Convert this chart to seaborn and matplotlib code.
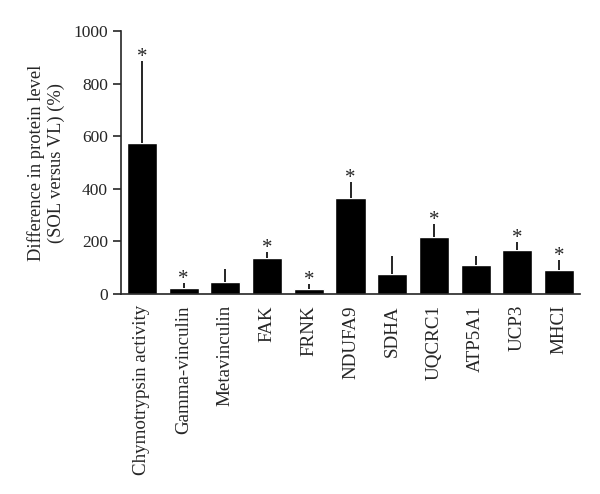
import numpy as np
import pandas as pd
import matplotlib
matplotlib.use("Agg")
import matplotlib.pyplot as plt
import seaborn as sns

labels = ["Chymotrypsin activity", "Gamma-vinculin", "Metavinculin", "FAK", "FRNK",
          "NDUFA9", "SDHA", "UQCRC1", "ATP5A1", "UCP3", "MHCI"]
values = [573, 22, 47, 138, 19, 366, 75, 218, 110, 166, 91]
errors = [313, 18, 47, 20, 18, 59, 68, 47, 36, 32, 37]
significant = [True, True, False, True, True, True, False, True, False, True, True]

df = pd.DataFrame({"protein": labels, "value": values})

sns.set_style("ticks")
plt.rcParams['font.family'] = ['Liberation Serif', 'DejaVu Serif']

fig = plt.figure(figsize=(6, 4.94), dpi=100)
ax = fig.add_axes([0.2017, 0.405, 0.765, 0.532])

sns.barplot(data=df, x="protein", y="value", color="black", width=0.72,
            saturation=1, ax=ax, errorbar=None)

x = np.arange(len(labels))
ax.errorbar(x, values, yerr=[np.zeros(len(errors)), errors], fmt="none",
            ecolor="black", elinewidth=1.2, capsize=0)

# stars sit just above the error bar tip
for xi, v, e, s in zip(x, values, errors, significant):
    if s:
        ax.text(xi, v + e - 22, "*", ha="center", va="bottom", fontsize=15)

ax.set_ylim(0, 1000)
ax.set_xlim(-0.5, len(labels) - 0.5)
ax.set_yticks([0, 200, 400, 600, 800, 1000])
ax.set_xlabel("")
ax.set_ylabel("Difference in protein level\n(SOL versus VL) (%)", fontsize=13.3,
              labelpad=6)
ax.tick_params(axis="y", labelsize=12.5, length=5.8, width=1.2, direction="out")
ax.tick_params(axis="x", labelsize=13.7, length=0, rotation=90, pad=8)
sns.despine(ax=ax, top=True, right=True)
for sp in ["left", "bottom"]:
    ax.spines[sp].set_linewidth(1.2)

fig.savefig("out.png", dpi=100)
